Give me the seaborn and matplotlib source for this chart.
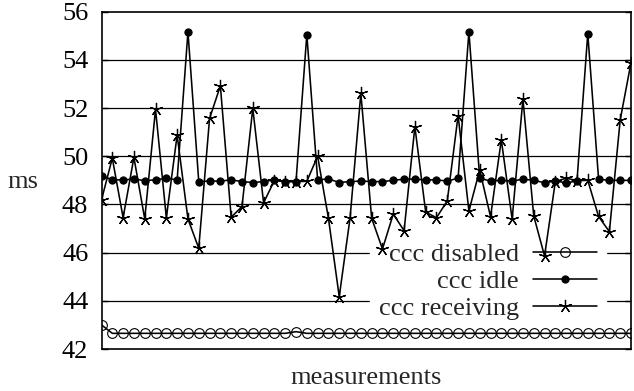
import matplotlib
matplotlib.use("Agg")
import matplotlib.pyplot as plt
import seaborn as sns
import numpy as np
import pandas as pd

# --- data ---
disabled = [43.0] + [42.65] * 17 + [42.72] + [42.65] * 31
idle = [49.20, 49.02, 49.02, 49.05, 48.99, 49.02, 49.09, 49.02, 55.17, 48.95,
        48.97, 48.97, 49.02, 48.95, 48.91, 48.95, 49.02, 48.95, 48.95, 55.05,
        49.02, 49.06, 48.91, 48.95, 48.97, 48.95, 48.95, 49.00, 49.05, 49.05,
        49.02, 49.02, 48.97, 49.09, 55.17, 49.09, 48.97, 49.00, 48.97, 49.05,
        49.00, 48.90, 48.97, 48.90, 48.97, 55.09, 49.05, 49.00, 49.00, 49.00]
receiving = [48.19, 49.92, 47.45, 49.95, 47.40, 51.95, 47.45, 50.88, 47.40, 46.18,
             51.57, 52.92, 47.47, 47.91, 51.99, 48.07, 48.99, 48.95, 48.95, 48.96,
             50.00, 47.43, 44.17, 47.43, 52.61, 47.43, 46.15, 47.60, 46.91, 51.23,
             47.68, 47.45, 48.15, 51.69, 47.73, 49.43, 47.49, 50.68, 47.39, 52.38,
             47.52, 45.86, 48.95, 49.09, 48.99, 49.00, 47.50, 46.87, 51.51, 53.88]
labels = ["ccc disabled", "ccc idle", "ccc receiving"]
yticks = [42, 44, 46, 48, 50, 52, 54, 56]

sns.set_theme(style="white")
plt.rcParams["font.family"] = ["Liberation Serif", "DejaVu Serif"]

FS = 19

fig = plt.figure(figsize=(6.34, 3.91), dpi=100)
ax = fig.add_axes([101.5 / 634, 1 - 349 / 391, 529.5 / 634, (349 - 11.7) / 391])

n = len(idle)
x = np.arange(n)
df = pd.DataFrame({"m": x, "disabled": disabled, "idle": idle, "receiving": receiving})

lw = 1.15
sns.lineplot(data=df, x="m", y="disabled", ax=ax, color="black", lw=lw,
             marker="o", markersize=7, markerfacecolor="none",
             markeredgecolor="black", markeredgewidth=0.8, label=labels[0], zorder=3)
sns.lineplot(data=df, x="m", y="idle", ax=ax, color="black", lw=lw,
             marker="o", markersize=5.2, markerfacecolor="black",
             markeredgecolor="black", label=labels[1], zorder=3)
sns.lineplot(data=df, x="m", y="receiving", ax=ax, color="black", lw=lw,
             marker=(5, 2, 0), markersize=9.5, markeredgewidth=0.9,
             markeredgecolor="black", label=labels[2], zorder=3)

ax.set_xlim(0, n - 1)
ax.set_ylim(42, 56)
ax.set_yticks(yticks)
ax.set_yticklabels([str(t) for t in yticks], fontsize=FS)
ax.set_xticks([])
ax.tick_params(axis="y", direction="in", length=4, width=1, left=True, right=True,
               pad=9.5, colors="black")
for t in yticks[1:-1]:
    ax.axhline(t, color="black", lw=0.9, zorder=1)

for s in ax.spines.values():
    s.set_color("black")
    s.set_linewidth(1.2)
    s.set_visible(True)

ax.set_xlabel("measurements", fontsize=FS)
ax.xaxis.set_label_coords(0.5, -0.104)
ax.xaxis.label.set_va("baseline")
ax.set_ylabel("ms", fontsize=FS, rotation=0)
ax.yaxis.set_label_coords(-0.1485, 0.477)
ax.yaxis.label.set_va("baseline")
ax.yaxis.label.set_ha("center")

leg = ax.legend(loc="lower right", bbox_to_anchor=((606 - 101.5) / 529.5, (349 - 329) / 337.3),
                frameon=True, fontsize=FS, markerfirst=False, handlelength=2.42,
                handletextpad=0.53, labelspacing=0.12, borderpad=0.35,
                borderaxespad=0.0, fancybox=False)
leg.get_frame().set_facecolor("white")
leg.get_frame().set_edgecolor("white")
leg.get_frame().set_alpha(1.0)
leg.set_zorder(2)
for text in leg.get_texts():
    text.set_ha("right")

fig.savefig("out.png", dpi=100)
